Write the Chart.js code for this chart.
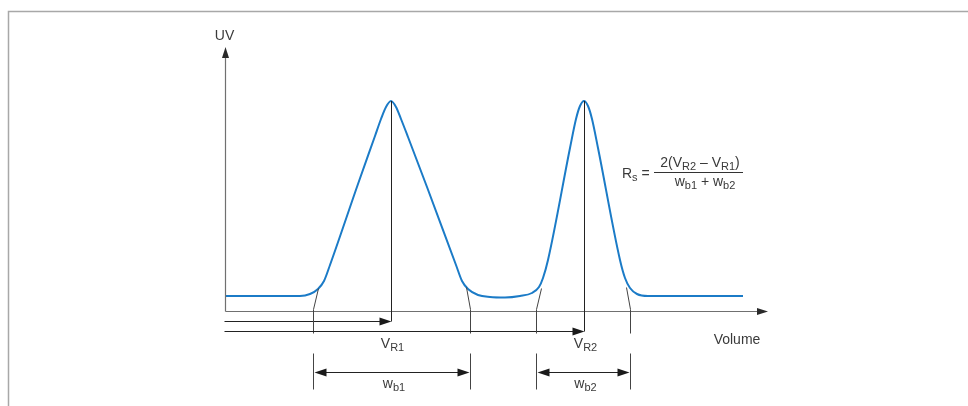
<!DOCTYPE html>
<html>
<head>
<meta charset="utf-8">
<script src="https://cdn.jsdelivr.net/npm/chart.js@4/dist/chart.umd.min.js"></script>
<style>
  body { margin: 0; background: #fff; }
</style>
</head>
<body>
<canvas id="chart" width="968" height="406"></canvas>
<script>
// elution profile (volume vs UV, arbitrary units)
const volume = [0, 7.5, 8.5, 9.3, 9.9, 10.5, 13.3, 15.0, 15.6, 16.1, 16.6, 17.1, 17.6, 18.3, 20.2, 23.1, 23.7, 24.3, 25.3, 26.5, 28.0, 29.5, 30.7, 31.4, 31.8, 32.3, 34.5, 35.1, 35.5, 35.9, 36.3, 36.7, 37.3, 39.5, 40.0, 40.5, 41.2, 42.3, 51.8];
const uv = [1.5, 1.5, 1.7, 2.2, 3.0, 4.6, 12.7, 17.5, 19.2, 20.4, 21.0, 20.4, 19.2, 17.4, 12.4, 4.6, 3.0, 2.2, 1.6, 1.4, 1.35, 1.5, 1.8, 2.4, 3.3, 5.1, 16.3, 19.2, 20.5, 21.0, 20.5, 19.2, 16.3, 5.1, 3.3, 2.3, 1.7, 1.5, 1.5];

// retention volumes and peak base limits
const retention = [16.6, 35.9];
const peakStart = [8.8, 31.1];
const peakEnd = [24.5, 40.5];
const peakNames = ['1', '2'];

const xMax = 54.3;
const yMax = 26.4;

const FONT = '"Liberation Sans", Arial, sans-serif';
const INK = '#3a3a3a';
const AXIS = '#707070';

function uvAt(v) {
    for (let i = 1; i < volume.length; i++) {
        if (v <= volume[i]) {
            const t = (v - volume[i - 1]) / (volume[i] - volume[i - 1]);
            return uv[i - 1] + t * (uv[i] - uv[i - 1]);
        }
    }
    return uv[uv.length - 1];
}

function line(ctx, x1, y1, x2, y2) {
    ctx.beginPath();
    ctx.moveTo(x1, y1);
    ctx.lineTo(x2, y2);
    ctx.stroke();
}

// filled arrow head with tip at (x, y), pointing along (dx, dy)
function head(ctx, x, y, dx, dy, len, half) {
    const px = -dy, py = dx;
    ctx.beginPath();
    ctx.moveTo(x, y);
    ctx.lineTo(x - dx * len + px * half, y - dy * len + py * half);
    ctx.lineTo(x - dx * len - px * half, y - dy * len - py * half);
    ctx.closePath();
    ctx.fill();
}

// text made of [string, isSubscript] parts
function subText(ctx, parts, x, y, align, size) {
    const sub = Math.round(size * 0.75);
    let total = 0;
    parts.forEach(p => {
        ctx.font = (p[1] ? sub : size) + 'px ' + FONT;
        total += ctx.measureText(p[0]).width;
    });
    let cx = align === 'center' ? x - total / 2 : (align === 'right' ? x - total : x);
    ctx.textAlign = 'left';
    ctx.textBaseline = 'alphabetic';
    parts.forEach(p => {
        ctx.font = (p[1] ? sub : size) + 'px ' + FONT;
        ctx.fillText(p[0], cx, p[1] ? y + 3 : y);
        cx += ctx.measureText(p[0]).width;
    });
}

const diagram = {
    id: 'diagram',
    afterDraw(chart) {
        const ctx = chart.ctx;
        const xs = chart.scales.x, ys = chart.scales.y;
        const x0 = Math.round(xs.getPixelForValue(0)) + 0.5;
        const y0 = Math.round(ys.getPixelForValue(0)) + 0.5;
        const px = v => Math.round(xs.getPixelForValue(v)) + 0.5;

        ctx.save();

        // frame
        ctx.strokeStyle = '#a8a8a8';
        ctx.lineWidth = 1.5;
        ctx.beginPath();
        ctx.moveTo(8.5, 406);
        ctx.lineTo(8.5, 11.5);
        ctx.lineTo(968, 11.5);
        ctx.stroke();

        // axes
        ctx.lineWidth = 1.2;
        ctx.strokeStyle = AXIS;
        ctx.fillStyle = '#2a2a2a';
        const yTop = ys.getPixelForValue(yMax);
        const xEnd = xs.getPixelForValue(xMax);
        line(ctx, x0, y0, x0, yTop + 8);
        head(ctx, x0, yTop, 0, -1, 11, 3.5);
        line(ctx, x0, y0, xEnd - 8, y0);
        head(ctx, xEnd, y0, 1, 0, 11, 3.5);

        ctx.fillStyle = INK;
        ctx.font = '14px ' + FONT;
        ctx.textAlign = 'center';
        ctx.textBaseline = 'alphabetic';
        ctx.fillText('UV', x0 - 1, yTop - 7);
        ctx.fillText('Volume', xEnd - 31, y0 + 32);

        ctx.lineWidth = 1;
        retention.forEach((v, i) => {
            const xr = px(v);
            const yArrow = y0 + 10 * (i + 1);
            ctx.strokeStyle = '#222';
            ctx.fillStyle = '#1a1a1a';
            // drop line from the peak top
            line(ctx, xr, ys.getPixelForValue(uvAt(v)), xr, yArrow);
            // retention volume arrow from the origin
            line(ctx, x0 - 1, yArrow, xr - 8, yArrow);
            head(ctx, xr, yArrow, 1, 0, 12, 4);

            ctx.fillStyle = INK;
            subText(ctx, [['V', false], ['R' + peakNames[i], true]], xr + 1, y0 + 36, 'center', 14);

            // tangent construction at the peak base
            const xa = px(peakStart[i]), xb = px(peakEnd[i]);
            ctx.strokeStyle = '#444';
            line(ctx, xa + 5, y0 - 23, xa, y0 - 2);
            line(ctx, xa, y0 - 2, xa, y0 + 22);
            line(ctx, xb - 4, y0 - 24, xb, y0 - 2);
            line(ctx, xb, y0 - 2, xb, y0 + 22);

            // base width dimension
            line(ctx, xa, y0 + 42, xa, y0 + 78);
            line(ctx, xb, y0 + 42, xb, y0 + 78);
            const yd = y0 + 61;
            ctx.strokeStyle = '#222';
            ctx.fillStyle = '#1a1a1a';
            line(ctx, xa + 8, yd, xb - 8, yd);
            head(ctx, xa + 1, yd, -1, 0, 12, 4);
            head(ctx, xb - 1, yd, 1, 0, 12, 4);

            ctx.fillStyle = INK;
            subText(ctx, [['w', false], ['b' + peakNames[i], true]], (xa + xb) / 2 + 2, y0 + 76, 'center', 14);
        });

        // resolution formula
        ctx.fillStyle = INK;
        subText(ctx, [['R', false], ['s', true], [' =', false]], 622, 178, 'left', 14);
        ctx.strokeStyle = '#333';
        ctx.lineWidth = 1;
        line(ctx, 654, 172.5, 743, 172.5);
        subText(ctx, [['2(V', false], ['R2', true], [' \u2013 V', false], ['R1', true], [')', false]], 700, 167, 'center', 14);
        subText(ctx, [['w', false], ['b1', true], [' + w', false], ['b2', true]], 705, 186, 'center', 14);

        ctx.restore();
    }
};

new Chart(document.getElementById('chart'), {
    type: 'line',
    data: {
        datasets: [{
            data: volume.map((v, i) => ({ x: v, y: uv[i] })),
            borderColor: '#1b7bc7',
            borderWidth: 2,
            pointRadius: 0,
            cubicInterpolationMode: 'monotone',
            fill: false
        }]
    },
    options: {
        responsive: false,
        animation: false,
        layout: { padding: { left: 225, right: 200, top: 47, bottom: 95 } },
        scales: {
            x: { type: 'linear', min: 0, max: xMax, display: false },
            y: { type: 'linear', min: 0, max: yMax, display: false }
        },
        plugins: {
            legend: { display: false },
            tooltip: { enabled: false }
        }
    },
    plugins: [diagram]
});
</script>
</body>
</html>
